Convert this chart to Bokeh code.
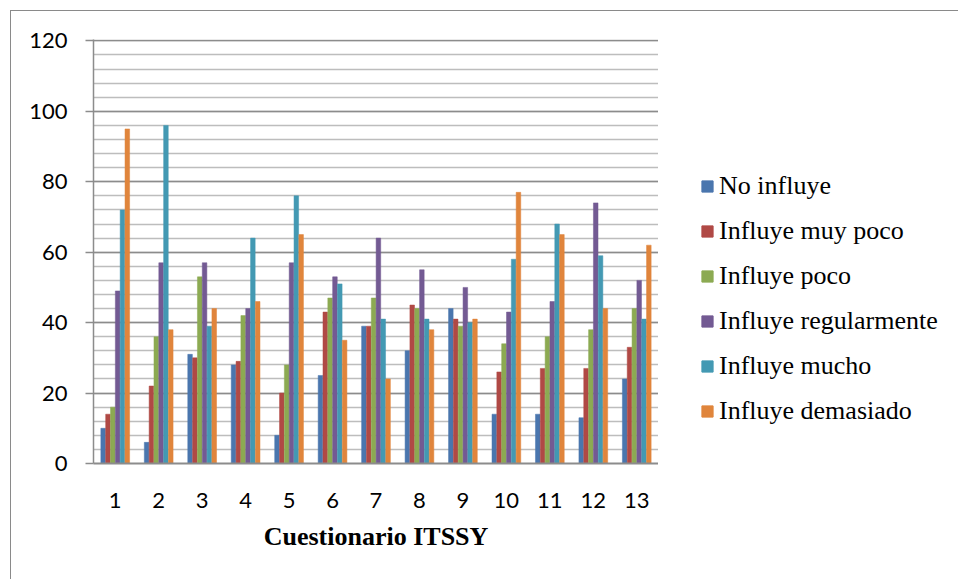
from bokeh.plotting import figure
from bokeh.layouts import row
from bokeh.models import (ColumnDataSource, FactorRange, Range1d, SingleIntervalTicker,
                          Legend, LegendItem)
from bokeh.transform import dodge
from bokeh.embed import file_html
from bokeh.resources import INLINE

categories = ["1", "2", "3", "4", "5", "6", "7", "8", "9", "10", "11", "12", "13"]
series_names = ["No influye", "Influye muy poco", "Influye poco",
                "Influye regularmente", "Influye mucho", "Influye demasiado"]
no_influye = [10, 6, 31, 28, 8, 25, 39, 32, 44, 14, 14, 13, 24]
muy_poco = [14, 22, 30, 29, 20, 43, 39, 45, 41, 26, 27, 27, 33]
poco = [16, 36, 53, 42, 28, 47, 47, 44, 39, 34, 36, 38, 44]
regularmente = [49, 57, 57, 44, 57, 53, 64, 55, 50, 43, 46, 74, 52]
mucho = [72, 96, 39, 64, 76, 51, 41, 41, 40, 58, 68, 59, 41]
demasiado = [95, 38, 44, 46, 65, 35, 24, 38, 41, 77, 65, 44, 62]
colors = ["#4A76AE", "#B04945", "#8CAA52", "#735A93", "#4399B3", "#E0853C"]

series = [no_influye, muy_poco, poco, regularmente, mucho, demasiado]
keys = ["s0", "s1", "s2", "s3", "s4", "s5"]
data = {"cat": categories}
for k, s in zip(keys, series):
    data[k] = s
source = ColumnDataSource(data)

p = figure(width=647, height=568, output_backend="svg", toolbar_location=None,
           x_range=FactorRange(factors=categories, range_padding=0),
           y_range=Range1d(0, 120.4),
           min_border_left=82, min_border_right=0, min_border_top=28, min_border_bottom=116)
p.outline_line_color = None

bw = 0.667 / 6
renderers = []
for i, (k, c) in enumerate(zip(keys, colors)):
    r = p.vbar(x=dodge("cat", (i - 2.5) * bw, range=p.x_range), top=k, width=bw * 0.95,
               source=source, fill_color=c, line_color=c, line_width=0.5)
    renderers.append(r)

# grid
p.xgrid.grid_line_color = None
p.yaxis.ticker = SingleIntervalTicker(interval=20, num_minor_ticks=5)
p.ygrid.grid_line_color = "#8c8c8c"
p.ygrid.grid_line_width = 1.5
p.ygrid.minor_grid_line_color = "#bdbdbd"
p.ygrid.minor_grid_line_width = 1.5

# axes
p.yaxis.axis_line_color = "#8c8c8c"
p.yaxis.axis_line_width = 1.5
p.yaxis.major_tick_line_color = "#8c8c8c"
p.yaxis.major_tick_line_width = 1.5
p.yaxis.major_tick_out = 8
p.yaxis.major_tick_in = 0
p.yaxis.minor_tick_line_color = None
p.yaxis.major_label_standoff = 18
p.yaxis.major_label_text_font = "Lato"
p.yaxis.major_label_text_font_size = "22px"
p.yaxis.major_label_text_color = "#000000"

p.xaxis.axis_line_color = "#8c8c8c"
p.xaxis.axis_line_width = 2
p.xaxis.major_tick_line_color = None
p.xaxis.minor_tick_line_color = None
p.xaxis.major_tick_out = 0
p.xaxis.major_label_standoff = 29
p.xaxis.major_label_text_font = "Lato"
p.xaxis.major_label_text_font_size = "22px"
p.xaxis.major_label_text_color = "#000000"
p.xaxis.axis_label = "Cuestionario ITSSY"
p.xaxis.axis_label_text_font = "Liberation Serif"
p.xaxis.axis_label_text_font_style = "bold"
p.xaxis.axis_label_text_font_size = "26px"
p.xaxis.axis_label_text_color = "#000000"
p.xaxis.axis_label_standoff = 11

# legend figure (its frame is aligned with the main plot's frame by the row layout)
q = figure(width=300, height=568, output_backend="svg", toolbar_location=None,
           x_range=Range1d(0, 1), y_range=Range1d(0, 1),
           x_axis_type=None, y_axis_type=None,
           min_border_left=0, min_border_right=0, min_border_top=0, min_border_bottom=0)
q.outline_line_color = None
q.xgrid.grid_line_color = None
q.ygrid.grid_line_color = None
proxy = ColumnDataSource({"x": [0.5], "top": [0.5]})
legend_renderers = [q.vbar(x="x", top="top", width=0.1, source=proxy,
                           fill_color=c, line_color=c, visible=False) for c in colors]

items = [LegendItem(label=n, renderers=[r]) for n, r in zip(series_names, legend_renderers)]
legend = Legend(items=items, location=(42, 37), orientation="vertical",
                glyph_width=14, glyph_height=14, label_standoff=5,
                label_height=30, spacing=15, padding=0, margin=0,
                label_text_font="Liberation Serif", label_text_font_size="26px",
                label_text_color="#000000",
                border_line_color=None, background_fill_alpha=0)
q.add_layout(legend, "center")

layout = row(p, q, styles={"border-top": "1px solid #8a8a8a",
                           "border-left": "1px solid #8a8a8a",
                           "margin-left": "10px", "margin-top": "10px"})

open("out.html", "w").write(file_html(layout, INLINE))
